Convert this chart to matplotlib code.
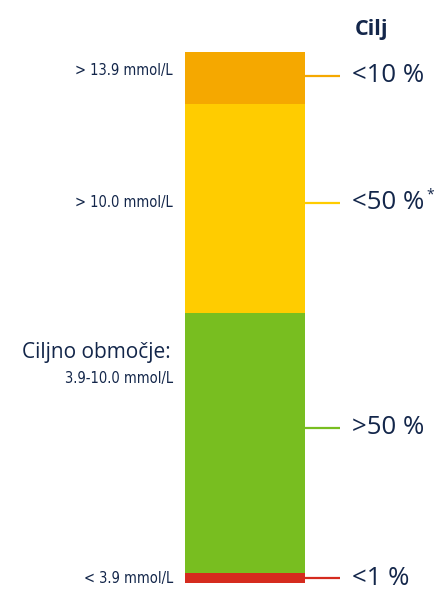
import matplotlib
matplotlib.use("Agg")
import matplotlib.pyplot as plt
from matplotlib.transforms import blended_transform_factory

# Time-in-range bands, bottom to top (share of the bar, %)
bands = ["<3.9", "3.9-10.0", ">10.0", ">13.9"]
band_share = [1.9, 49.0, 39.3, 9.8]
band_colors = ["#D52B1E", "#78BE20", "#FFCC00", "#F5A800"]

# Targets shown to the right of the bar, with the height of their leader line
targets = ["<1 %", ">50 %", "<50 %", "<10 %"]
target_level = [0.9, 29.2, 71.6, 95.5]

# Glucose range labels on the left
range_labels = ["< 3.9 mmol/L", "3.9-10.0 mmol/L", "> 10.0 mmol/L", "> 13.9 mmol/L"]
range_level = [0.9, 38.6, 71.6, 96.6]
zone_title = "Ciljno območje:"
zone_title_level = 43.5

navy = "#13264A"

fig = plt.figure(figsize=(4.39, 5.92), dpi=100)
ax = fig.add_axes([185 / 439, 9 / 592, 120 / 439, 531 / 592])

bottom = 0.0
for share, color in zip(band_share, band_colors):
    ax.bar(0.5, share, width=1.0, bottom=bottom, color=color, linewidth=0)
    bottom += share

ax.set_xlim(0, 1)
ax.set_ylim(0, sum(band_share))
ax.axis("off")

tr = blended_transform_factory(ax.transAxes, ax.transData)

# Leader lines and target labels
for label, level, color in zip(targets, target_level, band_colors):
    ax.plot([1.0, 1.29], [level, level], color=color, lw=1.6,
            transform=tr, clip_on=False, solid_capstyle="butt")
    ax.text(1.39, level, label, transform=tr, ha="left", va="center",
            fontsize=18.5, color=navy, family="Open Sans")
ax.text(2.01, target_level[2] + 1.5, "*", transform=tr,
        ha="left", va="center", fontsize=10, color=navy, family="Open Sans")

ax.text(1.55, 104.2, "Cilj", transform=tr, ha="center", va="center",
        fontsize=15.5, fontweight="bold", color=navy, family="Open Sans")

# Range labels
for label, level in zip(range_labels, range_level):
    ax.text(-0.1, level, label, transform=tr, ha="right", va="center",
            fontsize=10.5, color=navy, family="DejaVu Sans",
            fontstretch="condensed")
ax.text(-0.12, zone_title_level, zone_title, transform=tr, ha="right",
        va="center", fontsize=15, color=navy, family="Open Sans")

fig.savefig("out.png", dpi=100)
